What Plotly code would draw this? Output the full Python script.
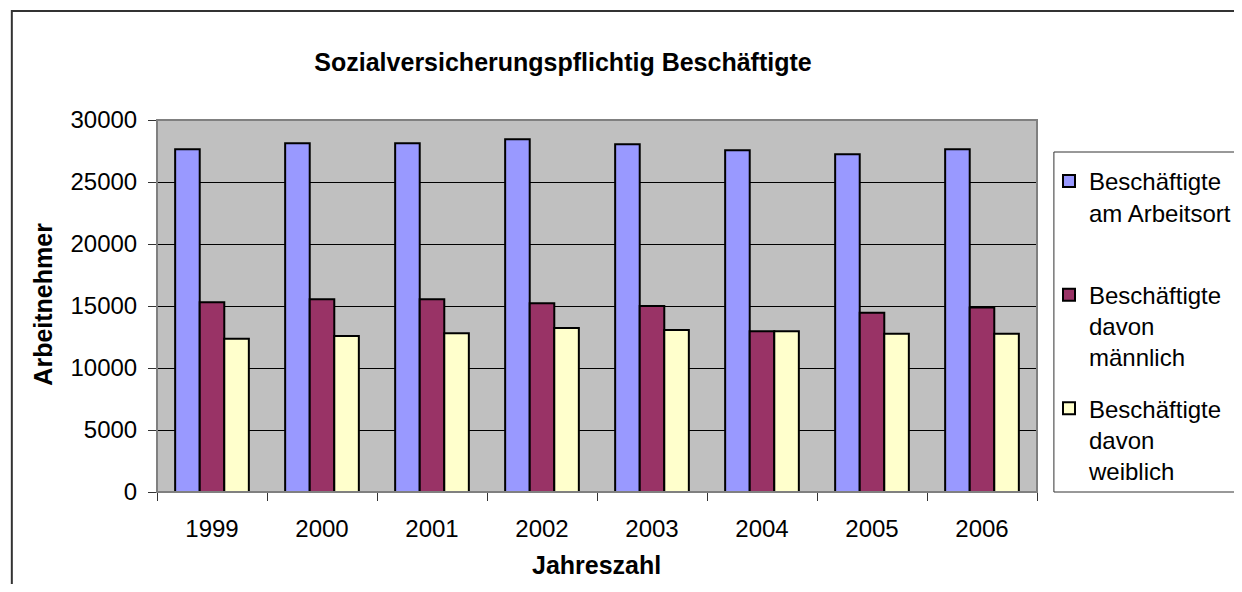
import plotly.graph_objects as go

years = ["1999", "2000", "2001", "2002", "2003", "2004", "2005", "2006"]
am_arbeitsort = [27640, 28120, 28120, 28440, 28040, 27560, 27230, 27640]
maennlich = [15300, 15540, 15540, 15220, 15000, 12960, 14460, 14870]
weiblich = [12360, 12580, 12800, 13230, 13070, 12960, 12770, 12770]

names = ["Beschäftigte<br>am Arbeitsort<br> ",
         "Beschäftigte<br>davon<br>männlich",
         "Beschäftigte<br>davon<br>weiblich"]
colors = ["#9999FF", "#993366", "#FFFFCC"]

# page has an 8px body margin, so lay out in reference pixels minus 8
OFF = 8
W, H = 1242 - 2 * OFF, 592 - 2 * OFF
L, T = 157 - OFF, 120 - OFF
R, B = W - (1042 - OFF), H - (492 - OFF)
pw, ph = W - L - R, H - T - B


def px_x(x):
    return (x - OFF - L) / pw


def px_y(y):
    return (H - B - (y - OFF)) / ph


font = "Arial, Liberation Sans, sans-serif"

fig = go.Figure()
for i, vals in enumerate([am_arbeitsort, maennlich, weiblich]):
    fig.add_trace(go.Bar(x=years, y=vals, name=names[i], legendgroup=str(i),
                         marker=dict(color=colors[i], line=dict(color="black", width=2))))

fig.update_layout(
    width=W, height=H,
    margin=dict(l=L, r=R, t=T, b=B),
    paper_bgcolor="white", plot_bgcolor="#C0C0C0",
    font=dict(family=font, size=24, color="black"),
    barmode="group", bargap=0.33, bargroupgap=0,
    title=dict(text="<b>Sozialversicherungspflichtig Beschäftigte</b>",
               x=(563 - OFF) / W, xanchor="center", y=1 - (62 - OFF) / H, yanchor="middle",
               font=dict(size=25)),
    legend=dict(x=(1049 - OFF) / W, xref="container", y=1 - (159 - OFF) / H, yref="container",
                xanchor="left", yanchor="top", maxheight=400,
                bgcolor="rgba(0,0,0,0)", borderwidth=0,
                tracegroupgap=17, valign="top", font=dict(size=24)),
    showlegend=True,
)

fig.update_yaxes(range=[0, 30000], dtick=5000, tickformat="d", showgrid=True, gridcolor="black", gridwidth=1,
                 ticks="outside", ticklen=8, tickcolor="#333", showline=True, linecolor="#333",
                 zeroline=False, tickfont=dict(size=24), ticklabelstandoff=6)
fig.update_xaxes(ticks="outside", tickson="boundaries", ticklen=8, tickcolor="#333",
                 showline=True, linecolor="black", tickfont=dict(size=24), ticklabelstandoff=15)

# axis titles
fig.add_annotation(text="<b>Jahreszahl</b>", xref="paper", yref="paper", x=px_x(599), y=px_y(565),
                   showarrow=False, font=dict(size=25), xanchor="center", yanchor="middle")
fig.add_annotation(text="<b>Arbeitnehmer</b>", xref="paper", yref="paper", x=px_x(42), y=px_y(304),
                   showarrow=False, font=dict(size=25), textangle=-90, xanchor="center", yanchor="middle")

# legend box, plot area border and chart border
fig.add_shape(type="rect", xref="paper", yref="paper", x0=px_x(1059), x1=px_x(1270), y0=px_y(492), y1=px_y(152),
              line=dict(color="#333", width=1), fillcolor="white", layer="below")
fig.add_shape(type="rect", xref="paper", yref="paper", x0=0, x1=1, y0=0, y1=1,
              line=dict(color="#808080", width=2), layer="above")
fig.add_shape(type="rect", xref="paper", yref="paper", x0=px_x(11), x1=px_x(1280), y0=px_y(640), y1=px_y(11),
              line=dict(color="#333", width=2), layer="above")

fig.write_html("out.html")
